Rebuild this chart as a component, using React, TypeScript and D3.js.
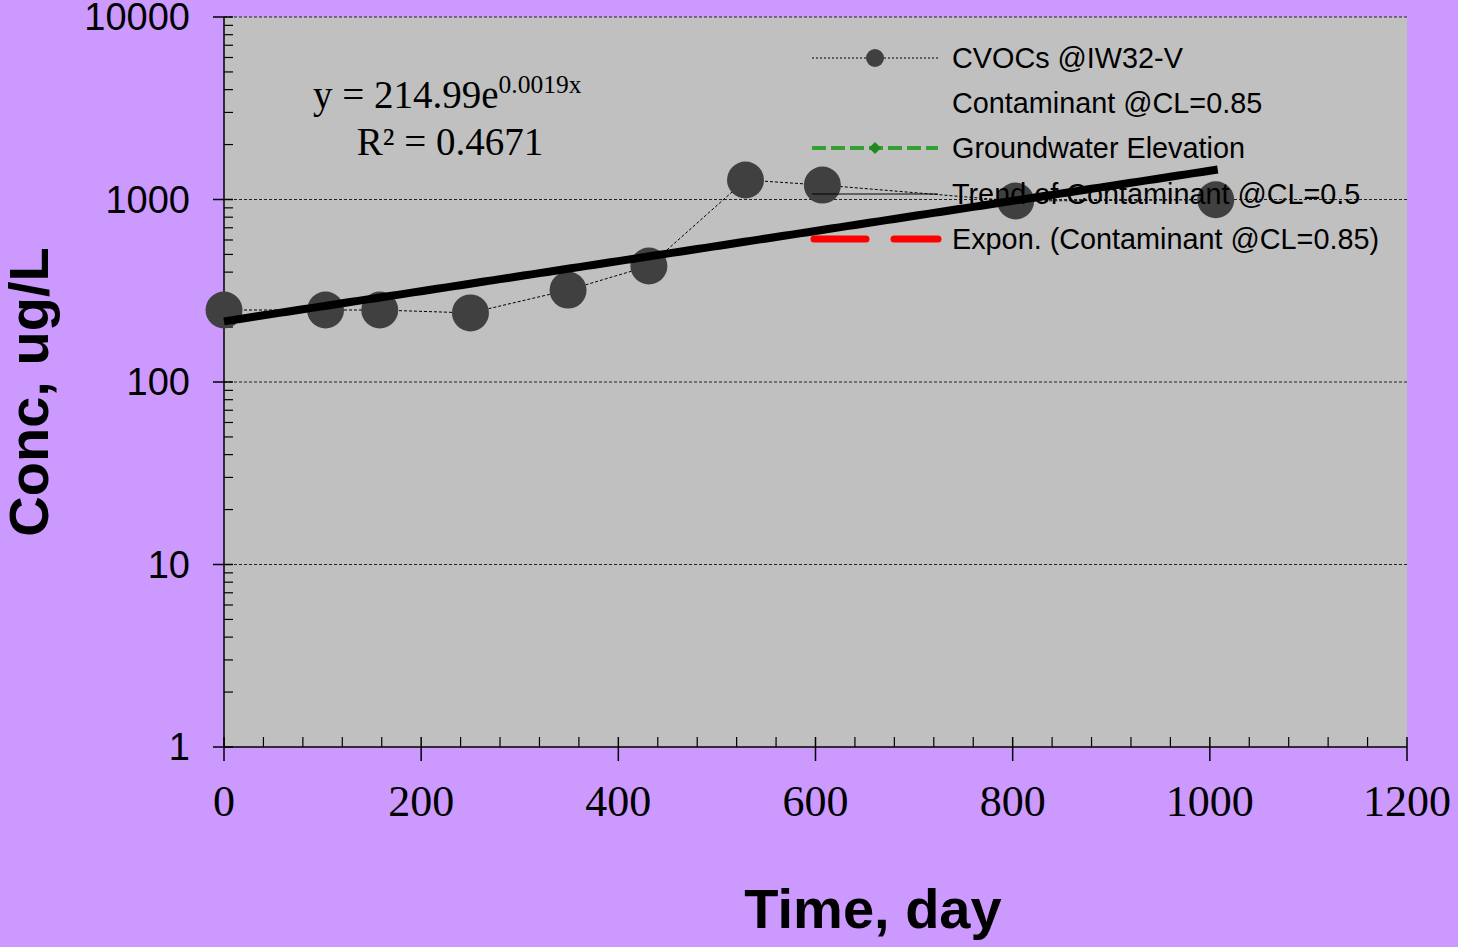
import React from "react";
import * as d3 from "d3";

const days = [0, 103, 158, 250, 349, 431, 529, 607, 803, 1006];
const conc = [248, 248, 248, 239, 319, 432, 1279, 1200, 981, 997];
const yTicks = [1, 10, 100, 1000, 10000];
const xTicks = [0, 200, 400, 600, 800, 1000, 1200];
const trendA = 214.99;
const trendB = 0.0019;
const trendRange = [0, 1008];
const legendLabels = [
  "CVOCs @IW32-V",
  "Contaminant @CL=0.85",
  "Groundwater Elevation",
  "Trend of Contaminant @CL=0.5",
  "Expon. (Contaminant @CL=0.85)",
];

const W = 1458;
const H = 947;
const L = 224, R = 1407, T = 17, B = 747;

export default function App() {
  const x = d3.scaleLinear().domain([0, 1200]).range([L, R]);
  const y = d3.scaleLog().domain([1, 10000]).range([B, T]);
  const sans = "'Liberation Sans', Arial, sans-serif";
  const serif = "'Liberation Serif', 'Times New Roman', serif";

  const minorY: number[] = [];
  for (let k = 0; k < 4; k++) for (let m = 2; m <= 9; m++) minorY.push(m * Math.pow(10, k));
  const minorX: number[] = d3.range(0, 1201, 40).filter((v) => v % 200 !== 0);

  const line = d3.line<number>().x((_, i) => x(days[i])).y((d) => y(d));
  const trendPts = d3.range(trendRange[0], trendRange[1] + 1, 8);
  const trendLine = d3.line<number>().x((d) => x(d)).y((d) => y(trendA * Math.exp(trendB * d)));

  const legX0 = 812, legX1 = 938, legText = 952;
  const legY = [58, 103, 148, 194, 239];

  return (
    <svg width={W} height={H} style={{ position: "absolute", left: 0, top: 0 }}>
      <rect x={0} y={0} width={W} height={H} fill="#cc99ff" />
      <rect x={L} y={T} width={R - L} height={B - T} fill="#c0c0c0" />
      {yTicks.slice(1).map((v) => (
        <line key={"g" + v} x1={L} x2={R} y1={y(v)} y2={y(v)} stroke="#222" strokeWidth={1} strokeDasharray="3,2" />
      ))}
      {/* axes */}
      <line x1={L} x2={L} y1={T} y2={B} stroke="#000" strokeWidth={1.5} />
      <line x1={L} x2={R} y1={B} y2={B} stroke="#000" strokeWidth={1.5} />
      {yTicks.map((v) => (
        <line key={"yt" + v} x1={L - 11} x2={L + 9} y1={y(v)} y2={y(v)} stroke="#000" strokeWidth={1.5} />
      ))}
      {minorY.map((v) => (
        <line key={"ym" + v} x1={L} x2={L + 9} y1={y(v)} y2={y(v)} stroke="#000" strokeWidth={1.2} />
      ))}
      {xTicks.map((v) => (
        <line key={"xt" + v} x1={x(v)} x2={x(v)} y1={B - 10} y2={B + 14} stroke="#000" strokeWidth={1.5} />
      ))}
      {minorX.map((v) => (
        <line key={"xm" + v} x1={x(v)} x2={x(v)} y1={B - 10} y2={B} stroke="#000" strokeWidth={1.2} />
      ))}
      {yTicks.map((v) => (
        <text key={"yl" + v} x={190} y={y(v)} dy="0.35em" textAnchor="end" fontFamily={sans} fontSize={38} fill="#000">
          {v}
        </text>
      ))}
      {xTicks.map((v) => (
        <text key={"xl" + v} x={x(v)} y={816} textAnchor="middle" fontFamily={serif} fontSize={44} fill="#000">
          {v}
        </text>
      ))}
      {/* series */}
      <path d={line(conc) || ""} fill="none" stroke="#000" strokeWidth={1} strokeDasharray="3,2" />
      {conc.map((v, i) => (
        <circle key={"p" + i} cx={x(days[i])} cy={y(v)} r={18.5} fill="#404040" />
      ))}
      {/* legend */}
      <line x1={legX0} x2={legX1} y1={legY[0]} y2={legY[0]} stroke="#000" strokeWidth={1} strokeDasharray="2,2" />
      <circle cx={875} cy={legY[0]} r={9} fill="#404040" />
      <line x1={legX0} x2={legX1} y1={legY[2]} y2={legY[2]} stroke="#33a033" strokeWidth={4} strokeDasharray="14,5" />
      <path d={`M875,${legY[2] - 6}L881,${legY[2]}L875,${legY[2] + 6}L869,${legY[2]}Z`} fill="#1f8a1f" />
      <line x1={legX0} x2={legX1} y1={legY[3]} y2={legY[3]} stroke="#000" strokeWidth={1.2} />
      <line x1={legX0 + 2} x2={866} y1={legY[4]} y2={legY[4]} stroke="#ff0000" strokeWidth={7} strokeLinecap="round" />
      <line x1={894} x2={938} y1={legY[4]} y2={legY[4]} stroke="#ff0000" strokeWidth={7} strokeLinecap="round" />
      {legendLabels.map((t, i) => (
        <text key={"lg" + i} x={legText} y={legY[i]} dy="0.35em" fontFamily={sans} fontSize={28.8} fill="#000">
          {t}
        </text>
      ))}
      {/* trend */}
      <path d={trendLine(trendPts) || ""} fill="none" stroke="#000" strokeWidth={8} />
      {/* equation */}
      <text x={313} y={108} fontFamily={serif} fontSize={39} fill="#000">
        y = 214.99e<tspan dy={-15} fontSize={25.5}>0.0019x</tspan>
      </text>
      <text x={450} y={155} textAnchor="middle" fontFamily={serif} fontSize={39} fill="#000">
        R² = 0.4671
      </text>
      {/* axis titles */}
      <text transform="translate(48,392) rotate(-90)" textAnchor="middle" fontFamily={sans} fontWeight="bold" fontSize={56} fill="#000">
        Conc, ug/L
      </text>
      <text x={873} y={928} textAnchor="middle" fontFamily={sans} fontWeight="bold" fontSize={56} fill="#000">
        Time, day
      </text>
    </svg>
  );
}
